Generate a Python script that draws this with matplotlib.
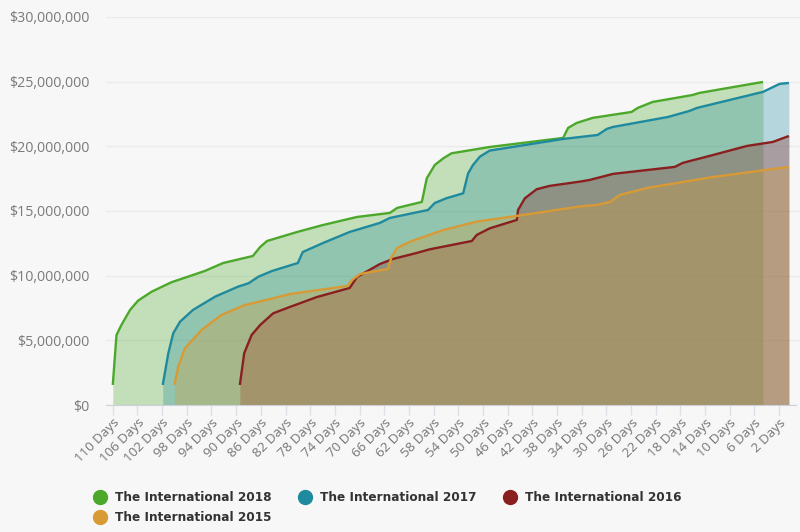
import matplotlib
matplotlib.use("Agg")
import matplotlib.pyplot as plt
from matplotlib.lines import Line2D
from matplotlib.ticker import FuncFormatter

# days left before the event, prize pool in millions of dollars
days_2018 = [110, 109.4, 108.6, 107.2, 105.9, 103.7, 100.5, 95.1, 92.1, 87.3, 86.1, 85.0, 80.1, 75.9, 70.4,
             65.1, 63.9, 59.9, 59.1, 57.8, 56.4, 55.1, 48.9, 37.0, 36.2, 34.8, 32.2, 25.9, 24.9, 22.5, 16.0, 14.9, 4.6]
prize_2018 = [1.55, 5.41, 6.19, 7.35, 8.07, 8.76, 9.49, 10.36, 10.98, 11.52, 12.22, 12.68, 13.38, 13.92, 14.54,
              14.85, 15.24, 15.7, 17.53, 18.56, 19.08, 19.46, 19.95, 20.65, 21.42, 21.81, 22.2, 22.66, 22.97, 23.43,
              23.97, 24.13, 24.98]

days_2017 = [101.9, 101.0, 100.2, 99.1, 97.0, 93.4, 89.7, 88.0, 86.4, 84.2, 80.0, 79.2, 75.9, 71.6, 66.7, 65.1, 58.9,
             57.8, 55.9, 53.2, 52.4, 51.6, 50.5, 48.9, 37.0, 31.4, 29.9, 28.9, 20.0, 16.5, 15.3, 4.6, 1.9, 0.4]
prize_2017 = [1.55, 4.0, 5.55, 6.44, 7.35, 8.38, 9.15, 9.41, 9.92, 10.36, 10.98, 11.83, 12.53, 13.38, 14.08, 14.46,
              15.08, 15.62, 15.99, 16.37, 17.91, 18.56, 19.2, 19.67, 20.57, 20.88, 21.35, 21.5, 22.27, 22.74, 22.97,
              24.21, 24.83, 24.9]

days_2016 = [89.4, 88.7, 87.5, 86.1, 84.0, 81.3, 76.9, 71.6, 70.4, 66.7, 64.6, 60.7, 58.6, 51.8, 51.0, 48.9, 44.5,
             44.3, 43.2, 41.3, 39.2, 34.3, 32.7, 28.9, 18.9, 17.6, 12.7, 7.2, 3.0, 0.4]
prize_2016 = [1.55, 4.0, 5.41, 6.19, 7.09, 7.58, 8.35, 9.05, 9.9, 10.9, 11.29, 11.76, 12.04, 12.68, 13.15, 13.66,
              14.31, 15.08, 15.98, 16.68, 16.94, 17.27, 17.4, 17.87, 18.41, 18.72, 19.33, 20.03, 20.34, 20.8]

days_2015 = [100.0, 99.4, 98.3, 95.6, 92.4, 88.6, 84.0, 81.3, 72.0, 71.2, 69.9, 65.4, 64.8, 63.9, 61.8, 56.4, 51.0,
             44.5, 34.3, 31.5, 29.4, 27.8, 23.4, 12.7, 0.4]
prize_2015 = [1.55, 2.96, 4.39, 5.8, 6.96, 7.73, 8.25, 8.58, 9.2, 9.67, 10.13, 10.52, 11.45, 12.14, 12.63, 13.53,
              14.18, 14.62, 15.35, 15.47, 15.7, 16.24, 16.78, 17.63, 18.41]

tick_days = list(range(110, 0, -4))
bg = "#f7f7f8"

fig = plt.figure(figsize=(8, 5.32), dpi=100, facecolor=bg)
ax = fig.add_axes([106 / 800, 1 - 405 / 532, 694 / 800, 388 / 532], facecolor=bg)

series = [
    ("The International 2018", days_2018, prize_2018, "#4ca82a"),
    ("The International 2017", days_2017, prize_2017, "#1f8a9e"),
    ("The International 2016", days_2016, prize_2016, "#8a1f1f"),
    ("The International 2015", days_2015, prize_2015, "#d89a35"),
]
for name, days, prize, color in series:
    ax.fill_between(days, prize, 0, color=color, alpha=0.3, linewidth=0, zorder=2)
    ax.plot(days, prize, color=color, linewidth=1.7, zorder=3, label=name, solid_capstyle="butt")

ax.set_xlim(111.1, -1.4)
ax.set_ylim(0, 30)
ax.set_yticks(range(0, 31, 5))
ax.yaxis.set_major_formatter(FuncFormatter(lambda v, pos: f"${v * 1000000:,.0f}"))
ax.set_xticks(tick_days)
ax.set_xticklabels([f"{d} Days" for d in tick_days], rotation=45, ha="right", rotation_mode="anchor",
                   fontsize=9.6, color="#757575", family="Open Sans")
for label in ax.get_yticklabels():
    label.set_family("Open Sans")
    label.set_fontsize(10.2)
    label.set_color("#7a7a7a")

ax.grid(axis="y", color="#eaeaea", linewidth=1, zorder=1)
ax.tick_params(axis="y", length=0, pad=12)
ax.tick_params(axis="x", length=7, width=1, color="#dcdfe6", pad=1)
for side in ["top", "right", "left"]:
    ax.spines[side].set_visible(False)
ax.spines["bottom"].set_color("#ccd0d8")
ax.spines["bottom"].set_bounds(111.1, -0.8)

# legend fills by column, so 2015 goes under 2018
order = [0, 3, 1, 2]
handles = [Line2D([], [], linestyle="none", marker="o", markersize=10, color=series[i][3]) for i in order]
labels = [series[i][0] for i in order]
fig.legend(handles, labels, ncol=3, frameon=False, loc="upper left", bbox_to_anchor=(93 / 800, 1 - 491 / 532),
           prop={"family": "DejaVu Sans", "weight": "bold", "size": 8.7}, labelcolor="#333333",
           handletextpad=0.6, columnspacing=2.2, labelspacing=0.6, handlelength=1.2, borderpad=0, borderaxespad=0)

fig.savefig("out.png", dpi=100, facecolor=bg)
